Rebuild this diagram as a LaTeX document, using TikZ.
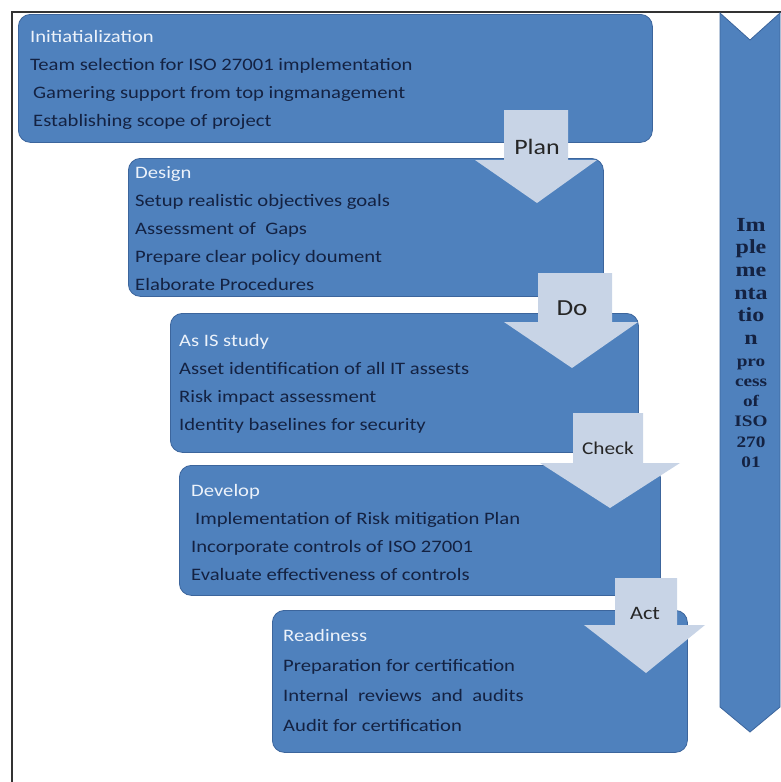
\documentclass[tikz,border=0pt]{standalone}
\usepackage{fontspec}
\newfontfamily\stagefont[FakeStretch=1.18]{Carlito}
\newfontfamily\chevfont[FakeStretch=1.2]{Liberation Serif}
\usetikzlibrary{positioning}
\definecolor{stageblue}{RGB}{79,129,189}
\definecolor{stageline}{RGB}{60,101,156}
\definecolor{stepgray}{RGB}{200,212,230}
\definecolor{itemnavy}{RGB}{20,34,66}
\definecolor{titlewhite}{RGB}{236,242,250}

\begin{document}
\begin{tikzpicture}[x=1pt, y=-1pt,
  stage/.style={draw=stageline, fill=stageblue, line width=0.8pt, rounded corners=12pt, anchor=north west, inner sep=0pt},
  stagetext/.style={anchor=north west, inner sep=0pt, align=left, text=itemnavy, font=\stagefont\fontsize{17.5}{28}\selectfont},
  phase/.style={fill=stepgray},
  phaselabel/.style={inner sep=0pt, text=black!85}]
  \useasboundingbox (0,0) rectangle (781,782);

  % Frame
  \draw[line width=1.2pt, black!80] (12,782) -- (12,12) -- (781,12);

  % Stage boxes
  \node[stage, minimum width=634pt, minimum height=128pt] (init) at (18,14) {};
  \node[stage, minimum width=475pt, minimum height=138pt] (design) at (128,158) {};
  \node[stage, minimum width=468pt, minimum height=139pt] (asis) at (170,313) {};
  \node[stage, minimum width=481pt, minimum height=130pt] (develop) at (179,465) {};
  \node[stage, minimum width=415pt, minimum height=142pt] (ready) at (272,610) {};

  % Stage texts
  \node[stagetext] (initTxt) at (30,30.5) {\textcolor{titlewhite}{Initiatialization}\\
    Team selection for ISO 27001 implementation\\
    \hspace{3pt}Gamering support from top ingmanagement\\
    \hspace{3pt}Establishing scope of project};
  \node[stagetext] (designTxt) at (135,166.5) {\textcolor{titlewhite}{Design}\\
    Setup realistic objectives goals\\
    Assessment of\ \ Gaps\\
    Prepare clear policy doument\\
    Elaborate Procedures};
  \node[stagetext] (asisTxt) at (179,334.5) {\textcolor{titlewhite}{As IS study}\\
    Asset identification of all IT assests\\
    Risk impact assessment\\
    Identity baselines for security};
  \node[stagetext] (developTxt) at (191,484.5) {\textcolor{titlewhite}{Develop}\\
    \hspace{4pt}Implementation\ of\ Risk\ mitigation Plan\\
    Incorporate controls of ISO 27001\\
    Evaluate effectiveness of controls};
  \node[stagetext, font=\stagefont\fontsize{17.5}{30}\selectfont] (readyTxt) at (283,629.5) {\textcolor{titlewhite}{Readiness}\\
    Preparation\ for certification\\
    Internal\ \ reviews\ \ and\ \ audits\\
    Audit for certification};

  % PDCA step arrows
  \fill[phase] (504,110) -- (568,110) -- (568,160) -- (597,160) -- (537,203) -- (475,160) -- (504,160) -- cycle;
  \fill[phase] (538,273) -- (612,273) -- (612,322) -- (638,322) -- (572,368) -- (504,322) -- (538,322) -- cycle;
  \fill[phase] (573,413) -- (643,413) -- (643,463) -- (680,463) -- (610,508) -- (540,463) -- (573,463) -- cycle;
  \fill[phase] (615,578) -- (677,578) -- (677,625) -- (705,625) -- (646,673) -- (584,625) -- (615,625) -- cycle;

  \node[phaselabel, font=\stagefont\fontsize{22}{22}\selectfont] (plan) at (537,147) {Plan};
  \node[phaselabel, font=\stagefont\fontsize{23}{23}\selectfont] (do) at (572,308) {Do};
  \node[phaselabel, font=\stagefont\fontsize{18}{18}\selectfont] (check) at (608,448) {Check};
  \node[phaselabel, font=\stagefont\fontsize{19}{19}\selectfont] (act) at (645,613) {Act};

  % Implementation chevron
  \draw[draw=stageline, fill=stageblue, line width=0.8pt] (720,13) -- (750,40) -- (780,13) -- (780,707) -- (750,732) -- (720,707) -- cycle;
  \node[inner sep=0pt, anchor=north, align=center, text=itemnavy, font=\chevfont\bfseries\fontsize{16}{20.2}\selectfont] (impl) at (751,218)
    {{\fontsize{20}{20}\selectfont Im}\\[2.4pt]
     {\fontsize{20}{20}\selectfont ple}\\[2.4pt]
     {\fontsize{20}{20}\selectfont me}\\[2.4pt]
     {\fontsize{20}{20}\selectfont nta}\\[2.4pt]
     {\fontsize{20}{20}\selectfont tio}\\[2.4pt]
     {\fontsize{20}{20}\selectfont n}\\[1.8pt]
     pro\\cess\\of\\ISO\\270\\01};
\end{tikzpicture}
\end{document}
